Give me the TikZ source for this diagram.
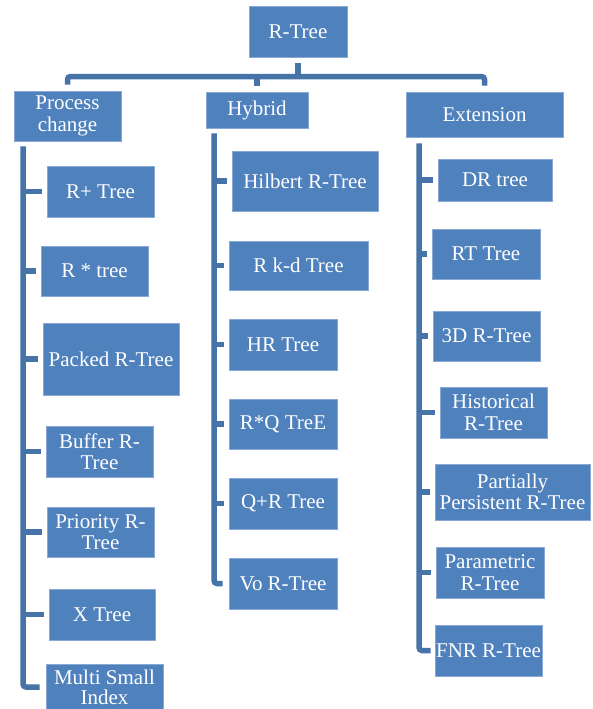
\documentclass[tikz,border=0pt]{standalone}
\usepackage{fontspec}
\setmainfont{Liberation Serif}
\usetikzlibrary{calc}
\definecolor{boxfill}{HTML}{4F81BD}
\definecolor{boxline}{HTML}{8AA8D4}
\definecolor{conncol}{HTML}{4673A8}
\tikzset{
  bx/.style={rectangle, fill=boxfill, draw=boxline, line width=0.8pt, text=white,
    font=\fontsize{21}{21.5}\selectfont, align=center, inner sep=0pt},
  conn/.style={draw=conncol, line width=5.5pt},
}
\begin{document}
\begin{tikzpicture}[x=1pt,y=-1pt]
\fill[white] (0,0) rectangle (593,709);
\useasboundingbox (0,0) rectangle (593,709);
% top level
\node[bx, minimum width=98pt, minimum height=51pt] (root) at (298,31.5) {R-Tree};
\node[bx, minimum width=107pt, minimum height=50pt] (pc) at (67.5,116) {Process\\change};
\node[bx, minimum width=102pt, minimum height=36pt] (hy) at (257,110) {Hybrid};
\node[bx, minimum width=157pt, minimum height=45pt] (ex) at (484.5,114.5) {Extension};
% process change children
\node[bx, minimum width=107pt, minimum height=51pt] (p1) at (100.5,191.5) {R+ Tree};
\node[bx, minimum width=107pt, minimum height=50pt] (p2) at (94.5,271) {R * tree};
\node[bx, minimum width=136pt, minimum height=72pt] (p3) at (111,359) {Packed R-Tree};
\node[bx, minimum width=107pt, minimum height=51pt] (p4) at (99.5,451.5) {Buffer R-\\Tree};
\node[bx, minimum width=107pt, minimum height=50pt] (p5) at (100.5,532) {Priority R-\\Tree};
\node[bx, minimum width=106pt, minimum height=51pt] (p6) at (102,614.5) {X Tree};
\node[bx, minimum width=117pt, minimum height=46pt,
  font=\fontsize{21}{20}\selectfont] (p7) at (104.5,687) {Multi Small\\Index};
% hybrid children
\node[bx, minimum width=146pt, minimum height=60pt] (h1) at (305,181) {Hilbert R-Tree};
\node[bx, minimum width=139pt, minimum height=49pt] (h2) at (298.5,265.5) {R k-d Tree};
\node[bx, minimum width=108pt, minimum height=51pt] (h3) at (283,344.5) {HR Tree};
\node[bx, minimum width=108pt, minimum height=50pt] (h4) at (283,424) {R*Q TreE};
\node[bx, minimum width=108pt, minimum height=51pt] (h5) at (283,503.5) {Q+R Tree};
\node[bx, minimum width=108pt, minimum height=51pt] (h6) at (283,583.5) {Vo R-Tree};
% extension children
\node[bx, minimum width=114pt, minimum height=42pt] (e1) at (495,180) {DR tree};
\node[bx, minimum width=108pt, minimum height=50pt] (e2) at (486,254) {RT Tree};
\node[bx, minimum width=107pt, minimum height=50pt] (e3) at (486.5,336) {3D R-Tree};
\node[bx, minimum width=107pt, minimum height=51pt] (e4) at (493.5,412.5) {Historical\\R-Tree};
\node[bx, minimum width=155pt, minimum height=56pt] (e5) at (512.5,492) {Partially\\Persistent R-Tree};
\node[bx, minimum width=108pt, minimum height=51pt] (e6) at (490,572.5) {Parametric\\R-Tree};
\node[bx, minimum width=107pt, minimum height=51pt] (e7) at (488.5,650.5) {FNR R-Tree};
% top bracket
\coordinate (bar) at (0,76.5);
\draw[conn] ($(root.south)+(0,6)$) -- (root.south |- bar);
\draw[conn, rounded corners=3pt] ($(pc.north)+(0,-6)$) -- (pc.north |- bar) -- (ex.north |- bar) -- ($(ex.north)+(0,-6)$);
\draw[conn] (hy.north |- bar) -- ($(hy.north)+(0,-6)$);
% vertical spines
\coordinate (pv) at (23,0);
\coordinate (hv) at (214,0);
\coordinate (ev) at (419,0);
\coordinate (pctop) at ($(pc.south)+(0,5)$);
\coordinate (hytop) at ($(hy.south)+(0,5)$);
\coordinate (extop) at ($(ex.south)+(0,6)$);
\draw[conn, rounded corners=3pt] (pv |- pctop) -- (pv |- p7) -- ($(p7.west)+(-6,0)$);
\draw[conn, rounded corners=3pt] (hv |- hytop) -- (hv |- h6) -- ($(h6.west)+(-6,0)$);
\draw[conn, rounded corners=3pt] (ev |- extop) -- (ev |- e7) -- ($(e7.west)+(-4,0)$);
\foreach \n in {p1,p2,p3,p4,p5,p6} \draw[conn] (pv |- \n) -- ($(\n.west)+(-5,0)$);
\foreach \n in {h1,h2,h3,h4,h5} \draw[conn] (hv |- \n) -- ($(\n.west)+(-5,0)$);
\foreach \n in {e1,e2,e3,e4,e5,e6} \draw[conn] (ev |- \n) -- ($(\n.west)+(-5,0)$);
\end{tikzpicture}
\end{document}
